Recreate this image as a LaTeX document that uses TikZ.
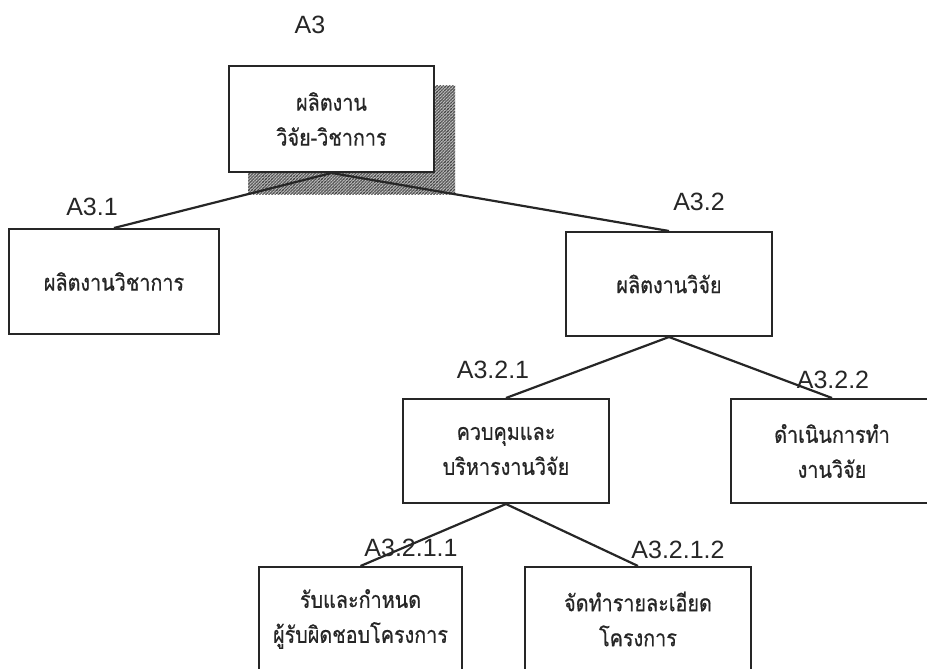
\documentclass[tikz,border=0pt]{standalone}
\usepackage{fontspec}
\setmainfont{Liberation Sans}
\newfontfamily\thaifont[Script=Thai,FakeStretch=0.86,FakeBold=0.6]{Loma}
\usetikzlibrary{patterns.meta,backgrounds}

\definecolor{ink}{HTML}{262626}

\begin{document}
\begin{tikzpicture}[x=1pt,y=-1pt,
  box/.style={draw=ink,line width=2pt,fill=white,inner sep=0pt,
    align=center,text=ink,font=\thaifont\fontsize{23}{35}\selectfont},
  code/.style={inner sep=0pt,text=ink,font=\fontsize{25}{25}\selectfont},
  link/.style={draw=ink,line width=2.2pt},
  hatch/.style={fill=gray!45,
    postaction={pattern={Lines[angle=45,distance=2.2pt,line width=0.8pt]},pattern color=black!80},
    postaction={pattern={Lines[angle=-45,distance=2.2pt,line width=0.5pt]},pattern color=black!55}}]

  % page frame
  \useasboundingbox (0,0) rectangle (927,669);
  \clip (0,0) rectangle (927,669);

  % boxes
  \node[box,minimum width=205,minimum height=106] (top) at (331.5,119)
    {ผลิตงาน\\วิจัย-วิชาการ};
  \node[box,minimum width=210,minimum height=105] (a31) at (114,281.5)
    {ผลิตงานวิชาการ};
  \node[box,minimum width=206,minimum height=104] (a32) at (669,284)
    {ผลิตงานวิจัย};
  \node[box,minimum width=206,minimum height=104] (a321) at (506,451)
    {ควบคุมและ\\บริหารงานวิจัย};
  \node[box,minimum width=202,minimum height=104] (a322) at (832,451)
    {ดำเนินการทำ\\งานวิจัย};
  \node[box,minimum width=203,minimum height=104] (a3211) at (360.5,619)
    {รับและกำหนด\\ผู้รับผิดชอบโครงการ};
  \node[box,minimum width=226,minimum height=104] (a3212) at (638,619)
    {จัดทำรายละเอียด\\โครงการ};

  % hatched shadow behind the root box
  \begin{scope}[on background layer]
    \path[hatch] ([shift={(20,21)}]top.south west) rectangle ([shift={(20,21)}]top.north east);
  \end{scope}

  % numbering labels
  \node[code] (l3)    at (310,25)  {A3};
  \node[code] (l31)   at (92,207)  {A3.1};
  \node[code] (l32)   at (699,202) {A3.2};
  \node[code] (l321)  at (493,370) {A3.2.1};
  \node[code] (l322)  at (833,380) {A3.2.2};
  \node[code] (l3211) at (411,548) {A3.2.1.1};
  \node[code] (l3212) at (678,550) {A3.2.1.2};

  % tree connectors
  \draw[link] (top.south) -- (a31.north);
  \draw[link] (top.south) -- (a32.north);
  \draw[link] (a32.south) -- (a321.north);
  \draw[link] (a32.south) -- (a322.north);
  \draw[link] (a321.south) -- (a3211.north);
  \draw[link] (a321.south) -- (a3212.north);
\end{tikzpicture}
\end{document}
